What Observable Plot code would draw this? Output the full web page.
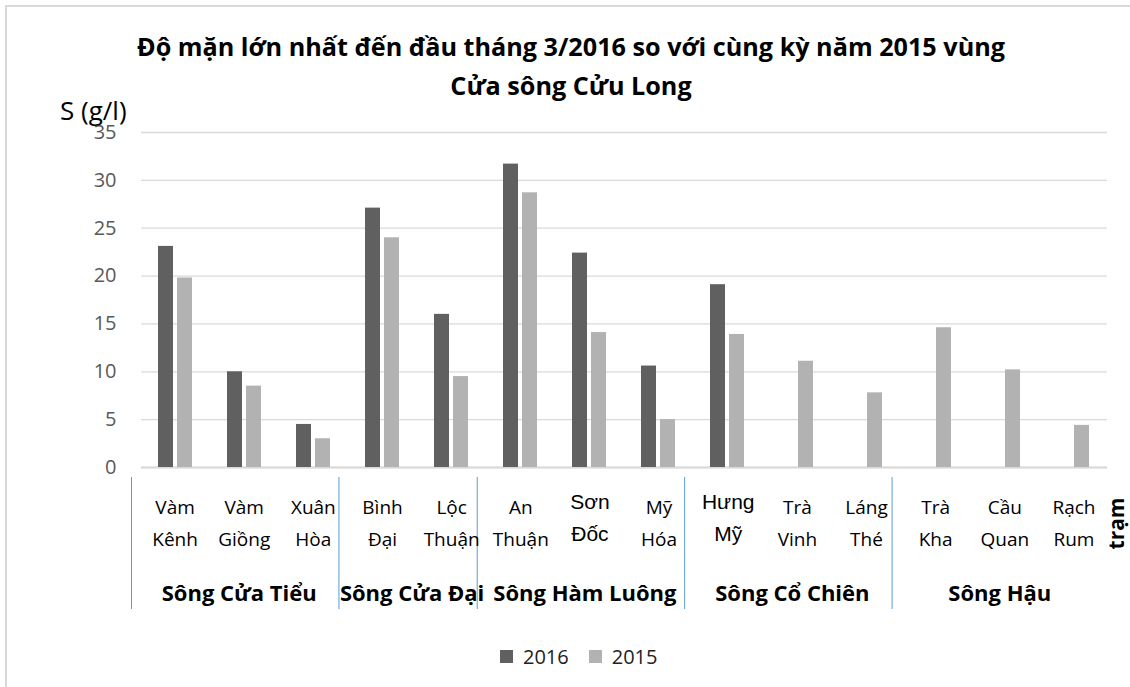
<!DOCTYPE html>
<html>
<head>
<meta charset="utf-8">
<script src="https://cdn.jsdelivr.net/npm/d3@7"></script>
<script src="https://cdn.jsdelivr.net/npm/@observablehq/plot@0.6"></script>
<style>
  html, body { margin: 0; padding: 0; background: #fff; }
  #chart { position: relative; width: 1130px; height: 687px; overflow: hidden; font-family: "Open Sans", sans-serif; }
  #frame { position: absolute; left: 5px; top: 5px; width: 1140px; height: 720px; border: 2px solid #d9d9d9; box-sizing: border-box; }
  #title { position: absolute; left: 0; top: 27px; width: 1142px; text-align: center; font-weight: bold; font-size: 25.2px; line-height: 39px; color: #000; }
  #ylabel { position: absolute; left: 60px; top: 93px; font-size: 26px; line-height: 34px; color: #000; }
  .layer { position: absolute; left: 0; }
  #legend { position: absolute; left: 500px; top: 640px; }
</style>
</head>
<body>
<div id="chart">
  <div id="frame"></div>
  <div id="main" class="layer" style="top:0"></div>
  <div id="cats" class="layer" style="top:467px"></div>
  <div id="title"></div>
  <div id="ylabel"></div>
  <div id="legend"></div>
</div>
<script>
// ---- data ----
const titleLines = ["Độ mặn lớn nhất đến đầu tháng 3/2016 so với cùng kỳ năm 2015 vùng", "Cửa sông Cửu Long"];
const yLabel = "S (g/l)";
const xLabel = "trạm";
const stations = ["Vàm Kênh", "Vàm Giồng", "Xuân Hòa", "Bình Đại", "Lộc Thuận", "An Thuận", "Sơn Đốc", "Mỹ Hóa", "Hưng Mỹ", "Trà Vinh", "Láng Thé", "Trà Kha", "Cầu Quan", "Rạch Rum"];
const rivers = ["Sông Cửa Tiểu", "Sông Cửa Tiểu", "Sông Cửa Tiểu", "Sông Cửa Đại", "Sông Cửa Đại", "Sông Hàm Luông", "Sông Hàm Luông", "Sông Hàm Luông", "Sông Cổ Chiên", "Sông Cổ Chiên", "Sông Cổ Chiên", "Sông Hậu", "Sông Hậu", "Sông Hậu"];
const years = ["2016", "2015"];
const s2016 = [23.1, 10.0, 4.5, 27.1, 16.0, 31.7, 22.4, 10.6, 19.1, null, null, null, null, null];
const s2015 = [19.8, 8.5, 3.0, 24.0, 9.5, 28.7, 14.1, 5.0, 13.9, 11.1, 7.8, 14.6, 10.2, 4.4];
const yTicks = [0, 5, 10, 15, 20, 25, 30, 35];
const altFontStations = ["Sơn Đốc", "Hưng Mỹ"];
const colors = ["#606060", "#b2b2b2"];

// ---- derived tables ----
const rows = [];
stations.forEach((s, i) => {
  rows.push({station: s, year: "2016", value: s2016[i]});
  rows.push({station: s, year: "2015", value: s2015[i]});
});
const stationRows = stations.map((name, i) => ({name, i, river: rivers[i]}));
const groups = [];
rivers.forEach((r, i) => {
  const last = groups[groups.length - 1];
  if (last && last.name === r) last.end = i + 1;
  else groups.push({name: r, start: i, end: i + 1});
});

document.getElementById("title").innerHTML = titleLines.join("<br>");
document.getElementById("ylabel").textContent = yLabel;

const W = 1130, ML = 140, MR = 22;

// ---- main plot ----
const main = Plot.plot({
  width: W,
  height: 480,
  marginLeft: ML,
  marginRight: MR,
  marginTop: 132,
  marginBottom: 13,
  style: {fontFamily: "Open Sans, sans-serif", background: "transparent"},
  fx: {domain: stations, padding: 0, axis: null},
  x: {domain: years, paddingInner: 0.207, paddingOuter: 0.894, axis: null},
  y: {domain: [0, 35], axis: null},
  color: {domain: years, range: colors},
  marks: [
    Plot.gridY(yTicks, {stroke: "#d9d9d9", strokeOpacity: 1, strokeWidth: 1.3}),
    Plot.axisY(yTicks, {tickSize: 0, tickPadding: 25, fontSize: 20, color: "#595959", label: null}),
    Plot.ruleY([0], {stroke: "#d9d9d9", strokeWidth: 2}),
    Plot.barY(rows, {fx: "station", x: "year", y: "value", fill: "year"})
  ]
});
document.getElementById("main").appendChild(main);

// ---- category axis area ----
const cats = Plot.plot({
  width: W,
  height: 150,
  marginLeft: ML,
  marginRight: MR,
  marginTop: 10,
  marginBottom: 8,
  style: {fontFamily: "Open Sans, sans-serif", background: "transparent", overflow: "visible"},
  x: {domain: [0, stations.length], axis: null},
  marks: [
    Plot.ruleX(groups, {x: "start", stroke: "#5b9bd5", strokeWidth: 1, dx: -9}),
    Plot.text(stationRows.filter(d => !altFontStations.includes(d.name)), {
      x: d => d.i + 0.5, text: d => d.name.replace(" ", "\n"),
      frameAnchor: "top", lineAnchor: "middle", dy: 42, fontSize: 19, lineHeight: 1.68, fill: "#000"
    }),
    Plot.text(stationRows.filter(d => altFontStations.includes(d.name)), {
      x: d => d.i + 0.5, text: d => d.name.replace(" ", "\n"),
      frameAnchor: "top", lineAnchor: "middle", dy: 37, fontSize: 21, lineHeight: 1.52, fill: "#000",
      fontFamily: "Liberation Sans, Arial, sans-serif"
    }),
    Plot.text(groups, {
      x: d => (d.start + d.end) / 2, text: "name",
      frameAnchor: "top", lineAnchor: "middle", dy: 116, dx: -5, fontSize: 22, fontWeight: "bold", fill: "#000"
    }),
    Plot.text([xLabel], {
      frameAnchor: "right", textAnchor: "middle", lineAnchor: "middle", dx: 9, dy: -20, rotate: -90,
      fontSize: 21, fontWeight: "bold", fill: "#000"
    })
  ]
});
document.getElementById("cats").appendChild(cats);

// ---- legend ----
const leg = main.legend("color", {
  swatchSize: 13,
  style: {fontSize: "20px", fontFamily: "Open Sans, sans-serif", color: "#222", background: "transparent"}
});
document.getElementById("legend").appendChild(leg);
</script>
</body>
</html>
